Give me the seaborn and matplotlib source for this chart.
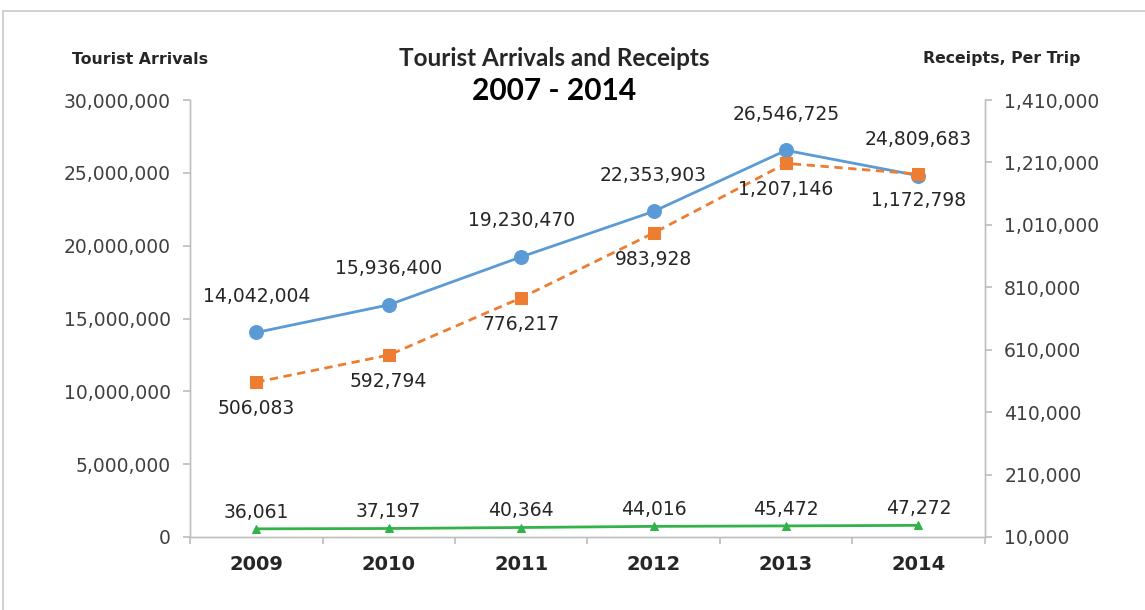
import pandas as pd
import matplotlib
matplotlib.use("Agg")
import matplotlib.pyplot as plt
import matplotlib.ticker as mticker
from matplotlib.patches import Rectangle
import seaborn as sns

# Data
years = ["2009", "2010", "2011", "2012", "2013", "2014"]
arrivals = [14042004, 15936400, 19230470, 22353903, 26546725, 24809683]
receipts = [506083, 592794, 776217, 983928, 1207146, 1172798]
per_trip = [36061, 37197, 40364, 44016, 45472, 47272]

left_ticks = [0, 5000000, 10000000, 15000000, 20000000, 25000000, 30000000]
right_ticks = [10000, 210000, 410000, 610000, 810000, 1010000, 1210000, 1410000]

BLUE = "#5B9BD5"
ORANGE = "#ED7D31"
GREEN = "#33B24A"
SPINE = "#BFBFBF"
TEXT = "#262626"

sns.set_theme(style="white")
plt.rcParams["font.family"] = ["DejaVu Sans"]

df = pd.DataFrame({
    "year": years,
    "pos": range(len(years)),
    "arrivals": arrivals,
    "receipts": receipts,
    "per_trip": per_trip,
})

fig = plt.figure(figsize=(11.45, 6.10), dpi=100)
ax = fig.add_axes([0.166, 0.1197, 0.694, 0.7163])
ax2 = ax.twinx()

# outer chart frame
fig.patches.append(Rectangle((3 / 1145, -0.1), 1.2, (599 / 610) + 0.1,
                             transform=fig.transFigure, fill=False,
                             edgecolor="#C8C8C8", linewidth=1.2, zorder=0))

sns.lineplot(data=df, x="pos", y="arrivals", ax=ax, color=BLUE, linewidth=2,
             marker="o", markersize=10, markeredgecolor=BLUE, zorder=3)
sns.lineplot(data=df, x="pos", y="receipts", ax=ax2, color=ORANGE, linewidth=2,
             linestyle=(0, (3, 2)), marker="s", markersize=9,
             markeredgecolor=ORANGE, zorder=3)
sns.lineplot(data=df, x="pos", y="per_trip", ax=ax2, color=GREEN, linewidth=2,
             marker="^", markersize=6, markeredgecolor=GREEN, zorder=3)

ax.set_ylim(0, 30000000)
ax2.set_ylim(10000, 1410000)
ax.set_xlim(-0.5, len(years) - 0.5)
ax.set_yticks(left_ticks)
ax2.set_yticks(right_ticks)
fmt = mticker.FuncFormatter(lambda v, p: f"{int(v):,}")
ax.yaxis.set_major_formatter(fmt)
ax2.yaxis.set_major_formatter(fmt)

# category boundaries as tick marks, year labels in between
ax.set_xticks([i - 0.5 for i in range(len(years) + 1)])
ax.set_xticklabels([])
ax.set_xticks(range(len(years)), minor=True)
ax.set_xticklabels(years, minor=True, fontsize=14, fontweight="bold", color=TEXT)
ax.tick_params(axis="x", which="major", length=5, color=SPINE, direction="out", bottom=True)
ax.tick_params(axis="x", which="minor", length=0, pad=13)
ax.tick_params(axis="y", length=5, color=SPINE, left=True, labelsize=13.5,
               labelcolor="#404040", pad=9)
ax2.tick_params(axis="y", length=5, color=SPINE, right=True, labelsize=13.5,
                labelcolor="#404040", pad=9)
ax.set_xlabel("")
ax.set_ylabel("")
ax2.set_ylabel("")

for a in (ax, ax2):
    a.spines["top"].set_visible(False)
    for side in ("left", "right", "bottom"):
        a.spines[side].set_color(SPINE)
        a.spines[side].set_linewidth(1)
ax.grid(False)
ax2.grid(False)

# data labels
for i, v in enumerate(arrivals):
    ax.annotate(f"{v:,}", (i, v), xytext=(0, 26), textcoords="offset points",
                ha="center", va="center", fontsize=13.5, color=TEXT)
for i, v in enumerate(receipts):
    ax2.annotate(f"{v:,}", (i, v), xytext=(0, -19), textcoords="offset points",
                 ha="center", va="center", fontsize=13.5, color=TEXT)
for i, v in enumerate(per_trip):
    ax2.annotate(f"{v:,}", (i, v), xytext=(0, 12), textcoords="offset points",
                 ha="center", va="center", fontsize=13.5, color=TEXT)

# titles
fig.text(554 / 1145, 1 - 66 / 610, "Tourist Arrivals and Receipts", ha="center",
         va="baseline", fontsize=17.5, fontweight="bold", family="Lato", color=TEXT)
fig.text(554 / 1145, 1 - 100 / 610, "2007 - 2014", ha="center", va="baseline",
         fontsize=21.5, fontweight="bold", family="Lato", color="#000000")
fig.text(140 / 1145, 1 - 59 / 610, "Tourist Arrivals", ha="center", va="center",
         fontsize=11.3, fontweight="bold", color=TEXT)
fig.text(1002 / 1145, 1 - 59 / 610, "Receipts, Per Trip", ha="center", va="center",
         fontsize=11.3, fontweight="bold", color=TEXT)

fig.savefig("out.png", dpi=100, facecolor="white")
